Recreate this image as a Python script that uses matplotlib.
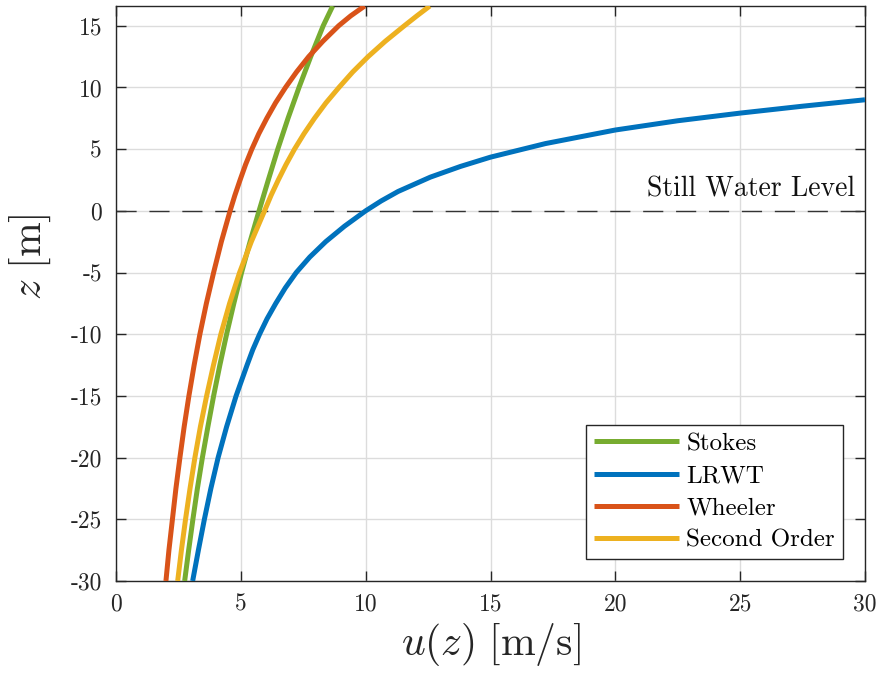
import matplotlib
matplotlib.use("Agg")
import matplotlib.pyplot as plt

plt.rcParams['font.family'] = ['cmr10', 'DejaVu Sans']
plt.rcParams['mathtext.fontset'] = 'cm'
plt.rcParams['axes.unicode_minus'] = False
plt.rcParams['axes.formatter.use_mathtext'] = False

# ---- data ----
stokes_z = [-30, -27.5, -25, -22.5, -20, -17.5, -15, -12.5, -10, -7.5, -5, -2.5,
            0, 2.5, 5, 7.5, 10, 12.5, 15, 16.6]
stokes_u = [2.75, 2.91, 3.08, 3.26, 3.46, 3.68, 3.91, 4.16, 4.43, 4.72, 5.03, 5.37,
            5.73, 6.10, 6.48, 6.89, 7.33, 7.80, 8.30, 8.68]

lrwt_z = [-30, -27.5, -25, -22.5, -20, -17.5, -15, -12.5, -11.25, -10, -8.75, -7.5,
          -6.25, -5, -3.75, -2.5, -1.25, 0, 0.8, 1.57, 2.73, 3.6, 4.35, 5.45, 6.55,
          7.3, 7.92, 8.48, 9.0]
lrwt_u = [3.07, 3.30, 3.54, 3.80, 4.09, 4.43, 4.81, 5.25, 5.48, 5.75, 6.05, 6.40,
          6.78, 7.22, 7.76, 8.40, 9.15, 10.0, 10.62, 11.30, 12.59, 13.8, 15.0, 17.2, 20.0,
          22.5, 25.0, 27.5, 30.0]

wheeler_z = [-30, -27.5, -25, -22.5, -20, -17.5, -15, -12.5, -10, -7.5, -5, -2.5,
             0, 1.25, 2.5, 3.75, 5, 6.25, 7.5, 8.75, 10, 11.25, 12.5, 13.75, 15, 15.8, 16.6]
wheeler_u = [2.00, 2.12, 2.26, 2.40, 2.56, 2.73, 2.92, 3.13, 3.36, 3.62, 3.91, 4.22,
             4.57, 4.76, 4.97, 5.19, 5.44, 5.72, 6.04, 6.39, 6.79, 7.23, 7.72, 8.29, 8.92,
             9.40, 9.96]

second_z = [-30, -27.5, -25, -22.5, -20, -17.5, -15, -12.5, -10, -7.5, -5, -2.5,
            0, 1.25, 2.5, 3.75, 5, 6.25, 7.5, 8.75, 10, 11.25, 12.5, 13.75, 15, 15.8, 16.6]
second_u = [2.47, 2.62, 2.785, 2.965, 3.16, 3.38, 3.63, 3.905, 4.20, 4.55, 4.95, 5.42,
            5.95, 6.21, 6.50, 6.81, 7.15, 7.53, 7.95, 8.41, 8.93, 9.48, 10.10, 10.79,
            11.55, 12.05, 12.57]

series_names = ['Stokes', 'LRWT', 'Wheeler', 'Second Order']
x_ticks = [0, 5, 10, 15, 20, 25, 30]
x_tick_labels = ['0', '5', '10', '15', '20', '25', '30']
y_ticks = [-30, -25, -20, -15, -10, -5, 0, 5, 10, 15]
y_tick_labels = ['-30', '-25', '-20', '-15', '-10', '-5', '0', '5', '10', '15']
swl_level = 0.0
x_range = (0, 30)
y_range = (-30, 16.6)

colors = ['#77AC30', '#0072BD', '#D95319', '#EDB120']

fig = plt.figure(figsize=(8.82, 6.77), dpi=100)
ax = fig.add_axes([116/882, 1-581/677, (865-116)/882, (581-6)/677])

ax.grid(True, color='#DCDCDC', linewidth=1.0, zorder=0)
ax.set_axisbelow(True)

ax.plot(x_range, [swl_level, swl_level], color='#333333', linewidth=1.0,
        dashes=(14.5, 9.2), zorder=2)

data = [(stokes_u, stokes_z), (lrwt_u, lrwt_z), (wheeler_u, wheeler_z), (second_u, second_z)]
for (u, z), name, c in zip(data, series_names, colors):
    ax.plot(u, z, color=c, linewidth=3.6, label=name, zorder=3,
            solid_capstyle='butt', solid_joinstyle='round')

ax.set_xlim(*x_range)
ax.set_ylim(*y_range)
ax.set_xticks(x_ticks)
ax.set_xticklabels(x_tick_labels)
ax.set_yticks(y_ticks)
ax.set_yticklabels(y_tick_labels)

ax.tick_params(direction='in', length=7, width=1.0, color='#262626',
               labelsize=17, labelcolor='#262626', top=True, right=True)
ax.tick_params(axis='x', pad=9)
ax.tick_params(axis='y', pad=10)
for s in ax.spines.values():
    s.set_color('#262626')
    s.set_linewidth(1.0)

ax.set_xlabel(r'$u(z)\ [\mathrm{m/s}]$', fontsize=30, labelpad=4, color='#262626')
ax.set_ylabel(r'$z\ [\mathrm{m}]$', fontsize=30, color='#262626')
ax.yaxis.set_label_coords(-0.084, 0.563)

ax.text(29.6, 1.15, 'Still Water Level', ha='right', va='baseline', fontsize=20,
        color='#111111')

leg = ax.legend(loc='lower right', bbox_to_anchor=(0.970, 0.0377), borderaxespad=0,
                fancybox=False, framealpha=1, edgecolor='#262626',
                prop={'family': 'cmr10', 'size': 18}, handlelength=3.4,
                handletextpad=0.3, labelspacing=0.39, borderpad=0.3)
leg.get_frame().set_linewidth(1.0)

fig.savefig('out.png', dpi=100, facecolor='white')
